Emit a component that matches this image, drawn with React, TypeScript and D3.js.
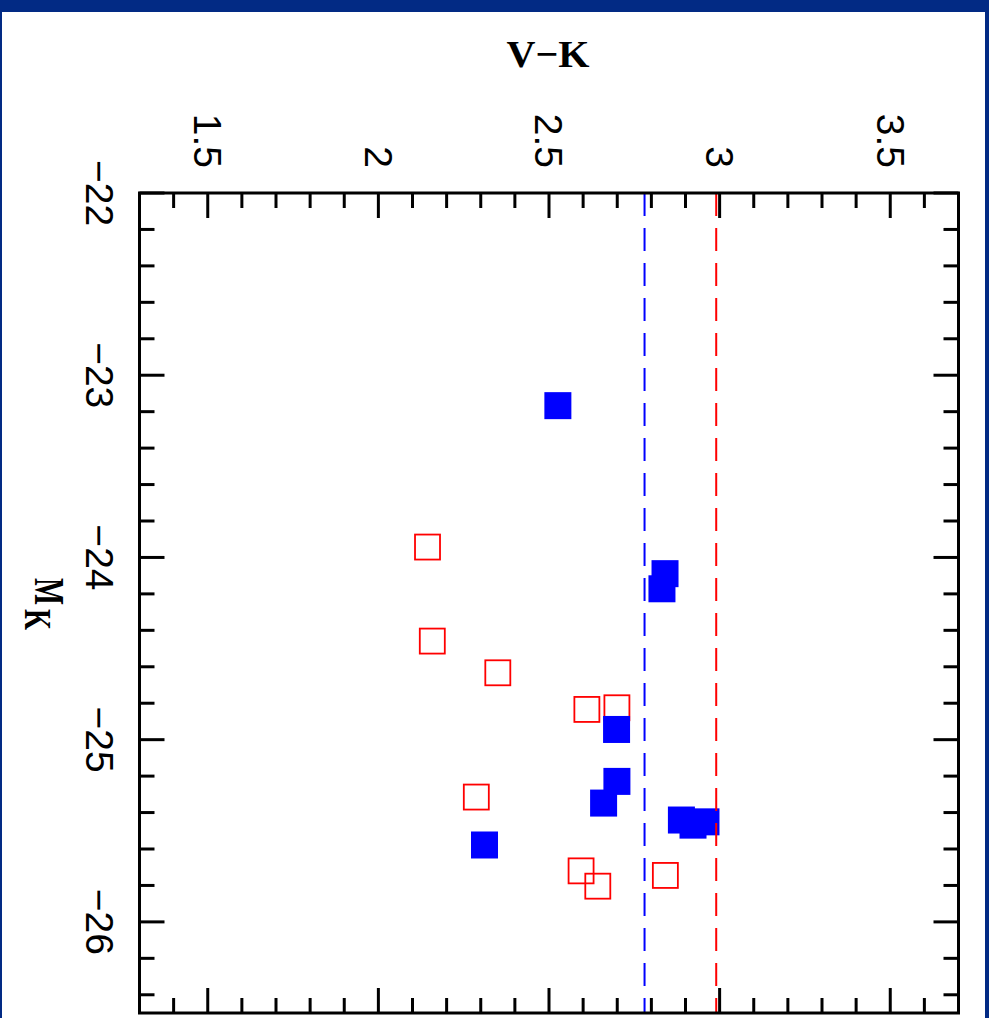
import React from "react";
import * as d3 from "d3";

const vkTicks = [1.5, 2, 2.5, 3, 3.5];
const mkTicks = [-22, -23, -24, -25, -26];

const blueVK = [2.526, 2.840, 2.831, 2.698, 2.699, 2.660, 2.311, 2.888, 2.922, 2.960];
const blueMK = [-23.167, -24.089, -24.172, -24.944, -25.229, -25.348, -25.578, -25.441, -25.469, -25.451];

const redVK = [2.144, 2.158, 2.350, 2.611, 2.699, 2.287, 2.594, 2.643, 2.841];
const redMK = [-23.943, -24.459, -24.633, -24.834, -24.825, -25.315, -25.720, -25.804, -25.745];

const refLines = [
  { vk: 2.78, color: "#0000ff" },
  { vk: 2.99, color: "#ff0000" },
];

const W = 989;
const H = 1018;
const L = 139.5, R = 958.5, T = 193, B = 1013;
const NAVY = "#022a84";

export default function App() {
  const x = d3.scaleLinear().domain([1.3, 3.7]).range([L, R]);
  const y = d3.scaleLinear().domain([-22, -26.5]).range([T, B]);

  const xMinor = d3.range(14, 37).map((i) => i / 10);
  const yMinor = d3.range(0, 23).map((i) => -22 - i * 0.2);
  const isMajorX = (v: number) => Math.abs(v * 2 - Math.round(v * 2)) < 1e-6;
  const isMajorY = (v: number) => Math.abs(v - Math.round(v)) < 1e-6;

  const sq = 27;
  const rsq = 25;
  const sans = "'Liberation Sans', Arial, sans-serif";
  const serif = "'Liberation Serif', 'DejaVu Serif', serif";

  return (
    <svg width={W} height={H} style={{ position: "absolute", left: 0, top: 0 }}>
      <rect x={0} y={0} width={W} height={H} fill={NAVY} />
      <rect x={2} y={12} width={983} height={H - 12} fill="#ffffff" />

      {/* red open squares */}
      {redVK.map((v, i) => (
        <rect
          key={"r" + i}
          x={x(v) - rsq / 2}
          y={y(redMK[i]) - rsq / 2}
          width={rsq}
          height={rsq}
          fill="none"
          stroke="#ff0000"
          strokeWidth={1.8}
        />
      ))}
      {/* blue filled squares */}
      {blueVK.map((v, i) => (
        <rect
          key={"b" + i}
          x={x(v) - sq / 2}
          y={y(blueMK[i]) - sq / 2}
          width={sq}
          height={sq}
          fill="#0000ff"
        />
      ))}

      {refLines.map((l, i) => (
        <line
          key={"l" + i}
          x1={x(l.vk)}
          x2={x(l.vk)}
          y1={T}
          y2={B}
          stroke={l.color}
          strokeWidth={2}
          strokeDasharray="23 12"
        />
      ))}

      {/* ticks */}
      <g stroke="#000" strokeWidth={3}>
        {xMinor.map((v, i) => {
          const len = isMajorX(v) ? 25 : 15;
          return (
            <g key={"xt" + i}>
              <line x1={x(v)} x2={x(v)} y1={T} y2={T + len} />
              <line x1={x(v)} x2={x(v)} y1={B} y2={B - len} />
            </g>
          );
        })}
        {yMinor.map((v, i) => {
          const len = isMajorY(v) ? 25 : 15;
          return (
            <g key={"yt" + i}>
              <line x1={L} x2={L + len} y1={y(v)} y2={y(v)} />
              <line x1={R} x2={R - len} y1={y(v)} y2={y(v)} />
            </g>
          );
        })}
      </g>
      <rect x={L} y={T} width={R - L} height={B - T} fill="none" stroke="#000" strokeWidth={3} />

      {/* top tick labels */}
      {vkTicks.map((v, i) => (
        <text
          key={"xl" + i}
          transform={`translate(${x(v)},168) rotate(90)`}
          textAnchor="end"
          dy="0.35em"
          fontFamily={sans}
          fontSize={39}
          fill="#000"
        >
          {String(v)}
        </text>
      ))}
      {/* left tick labels */}
      {mkTicks.map((v, i) => (
        <text
          key={"yl" + i}
          transform={`translate(100,${y(v)}) rotate(90)`}
          textAnchor="middle"
          dy="0.35em"
          fontFamily={sans}
          fontSize={39}
          fill="#000"
        >
          {"\u2212" + String(Math.abs(v))}
        </text>
      ))}

      {/* axis titles */}
      <text
        x={548}
        y={67}
        textAnchor="middle"
        fontFamily={serif}
        fontWeight="bold"
        fontSize={38}
        textLength={83}
        lengthAdjust="spacingAndGlyphs"
        fill="#000"
      >
        {"V\u2212K"}
      </text>
      <g transform="translate(35,578) rotate(90)">
        <text
          x={0}
          y={0}
          fontFamily={serif}
          fontWeight="bold"
          fontSize={43}
          textLength={27}
          lengthAdjust="spacingAndGlyphs"
          fill="#000"
        >
          M
        </text>
        <text
          x={31}
          y={10}
          fontFamily={serif}
          fontWeight="bold"
          fontSize={37}
          textLength={21}
          lengthAdjust="spacingAndGlyphs"
          fill="#000"
        >
          K
        </text>
      </g>
    </svg>
  );
}
